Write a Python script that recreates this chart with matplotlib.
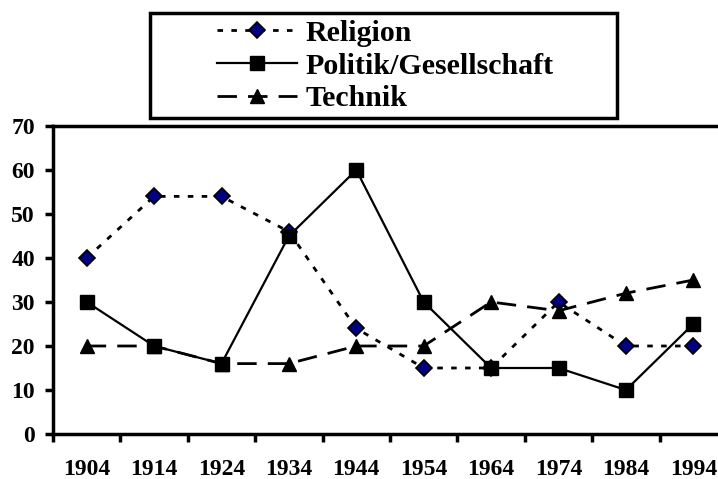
import numpy as np
import matplotlib
matplotlib.use("Agg")
import matplotlib.pyplot as plt
from matplotlib.patches import Rectangle

years = ["1904", "1914", "1924", "1934", "1944", "1954", "1964", "1974", "1984", "1994"]
religion = [40, 54, 54, 46, 24, 15, 15, 30, 20, 20]
politik = [30, 20, 16, 45, 60, 30, 15, 15, 10, 25]
technik = [20, 20, 16, 16, 20, 20, 30, 28, 32, 35]
y_ticks = [0, 10, 20, 30, 40, 50, 60, 70]

plt.rcParams["font.family"] = ["Liberation Serif", "DejaVu Serif"]
plt.rcParams["font.weight"] = "bold"

W, H = 718, 479
fig = plt.figure(figsize=(W / 100, H / 100), dpi=100)
ax = fig.add_axes([53 / W, (H - 434) / H, 674 / W, 308 / H])

x = np.arange(len(years))
ax.plot(x, religion, linestyle=(0, (2, 3)), color="black", lw=2,
        marker="D", markersize=8, markerfacecolor="#000080",
        markeredgecolor="black", markeredgewidth=1.2, label="Religion")
ax.plot(x, politik, linestyle="-", color="black", lw=1.6,
        marker="s", markersize=10, markerfacecolor="black",
        markeredgecolor="black", label="Politik/Gesellschaft")
ax.plot(x, technik, linestyle=(0, (7, 4)), color="black", lw=2,
        marker="^", markersize=10, markerfacecolor="black",
        markeredgecolor="black", label="Technik")

ax.set_xlim(-0.5, len(years) - 0.5)
ax.set_ylim(0, 70)
ax.set_yticks(y_ticks)
ax.set_yticklabels([str(v) for v in y_ticks], fontsize=17, fontweight="bold")

# category labels centred, tick marks between categories
ax.set_xticks(np.arange(-0.5, len(years), 1.0))
ax.set_xticklabels([])
ax.set_xticks(x, minor=True)
ax.set_xticklabels(years, minor=True, fontsize=17, fontweight="bold")
ax.tick_params(axis="x", which="minor", length=0, pad=18)
ax.tick_params(axis="x", which="major", length=6, width=2.5, direction="out")
ax.tick_params(axis="y", length=6, width=2.5, direction="out", pad=7)

for s in ax.spines.values():
    s.set_linewidth(2.5)

# legend entries without frame, box drawn separately
leg = fig.legend(loc="center left", bbox_to_anchor=(217 / W, 1 - 66 / H),
                 frameon=False, prop={"weight": "bold", "size": 21.5},
                 handlelength=2.68, handletextpad=0.27, labelspacing=0.2,
                 borderpad=0, borderaxespad=0)
fig.patches.append(Rectangle((150 / W, 1 - 118 / H), 467 / W, 105 / H,
                             transform=fig.transFigure, fill=False,
                             edgecolor="black", lw=2.5))

fig.savefig("out.png", dpi=100)
